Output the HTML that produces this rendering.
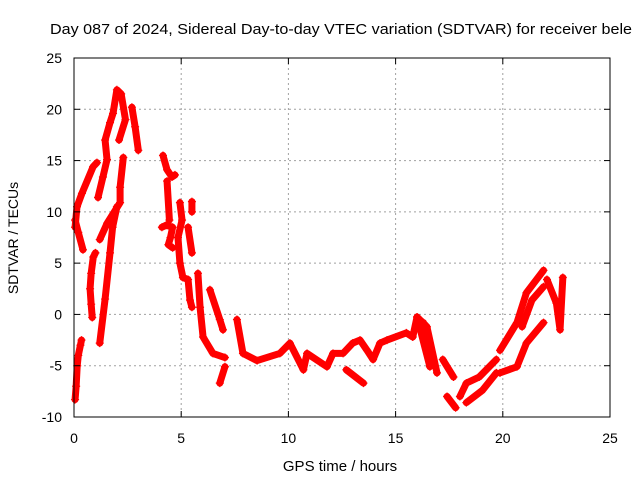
<!DOCTYPE html>
<html><head><meta charset="utf-8"><style>
body{margin:0;background:#fff;}
svg{display:block;font-family:"Liberation Sans",sans-serif;}
</style></head><body>
<svg id="chart" width="640" height="480">
<text x="50" y="34" font-size="15" textLength="582" lengthAdjust="spacingAndGlyphs">Day 087 of 2024, Sidereal Day-to-day VTEC variation (SDTVAR) for receiver bele</text>
<text x="340" y="471" font-size="15" text-anchor="middle">GPS time / hours</text>
<text transform="translate(18,238) rotate(-90)" font-size="14" text-anchor="middle">SDTVAR / TECUs</text>
<g id="grid"></g><g id="marks"></g><g id="axes"></g>
</svg>
<script>
const xTicks=[0,5,10,15,20,25];
const yTicks=[-10,-5,0,5,10,15,20,25];
const trackA=[[0.05,-8.3],[0.1,-7],[0.15,-5],[0.2,-4],[0.3,-3],[0.35,-2.5]];
const trackB=[[0.05,8.5],[0.14,10.5],[0.37,11.8],[0.89,14.4],[1.07,14.8]];
const trackB2=[[0.05,9.2],[0.2,8],[0.42,6.3]];
const trackC=[[0.85,-0.3],[0.8,1],[0.75,2.5],[0.8,4],[0.9,5.6],[1.0,6]];
const trackC2=[[1.2,7.3],[1.55,8.9],[2.15,10.9],[2.15,12.4],[2.3,15.3]];
const trackD=[[1.2,-2.8],[1.45,1.5],[1.68,6],[1.8,8.5],[2.0,10.5]];
const trackE=[[1.12,11.4],[1.35,13.4],[1.54,15.1],[1.45,17],[1.68,18.7],[1.82,19.6],[2.0,21.9],[2.2,21.5],[2.4,19],[2.1,17]];
const trackF=[[2.7,20.2],[2.85,18.3],[3.0,16]];
const trackG=[[4.15,15.5],[4.34,14.1],[4.57,13.4],[4.71,13.6]];
const trackG2=[[4.34,13],[4.45,9.2]];
const trackG3=[[4.1,8.5],[4.3,8.7],[4.6,8.5],[4.5,7.5],[4.4,6.8],[4.6,6.5]];
const trackH=[[4.94,10.9],[5.04,9.2],[4.85,7.5],[4.94,5.0],[5.08,3.6],[5.32,3.4],[5.41,1.4],[5.5,0.7]];
const trackH2=[[5.5,11],[5.5,10]];
const trackH3=[[5.32,8.5],[5.5,6]];
const trackI=[[5.78,4.0],[5.88,0.7],[6.02,-2.2],[6.48,-3.8],[7.04,-4.2]];
const trackJ=[[6.34,2.4],[6.8,-0.5],[6.95,-1.5]];
const trackK=[[7.04,-5.1],[6.8,-6.7]];
const trackM=[[7.6,-0.5],[7.88,-3.8],[8.54,-4.5],[9.6,-3.8],[10.07,-2.8],[10.7,-5.4],[10.87,-3.8],[11.8,-5.1],[12.08,-3.8],[12.55,-3.8],[13.0,-2.8],[13.34,-2.5],[13.67,-3.5],[13.95,-4.4],[14.27,-2.8],[14.6,-2.5],[15.5,-1.8],[15.8,-2.2],[16.0,-0.25],[16.46,-1.2],[16.93,-5.7]];
const trackM2=[[12.7,-5.4],[13.5,-6.7]];
const trackN=[[16.0,-0.25],[16.6,-5.1]];
const trackN2=[[16.3,-0.8],[16.6,-2.8]];
const trackO=[[17.2,-4.4],[17.7,-6.1]];
const trackO2=[[17.4,-8],[17.8,-9.1]];
const trackP=[[18,-8],[18.3,-6.7],[18.9,-6.1],[19.7,-4.4]];
const trackP2=[[18.3,-8.6],[19.05,-7.4],[19.7,-5.7]];
const trackQ=[[19.87,-3.5],[20.66,-0.8],[21.1,2.1],[21.9,4.3]];
const trackQ2=[[19.87,-5.7],[20.66,-5.1],[21.1,-2.8],[21.9,-0.8]];
const trackQ3=[[20.9,-1.2],[21.36,1.4],[21.9,2.7]];
const trackR=[[22.06,3.4],[22.5,1.1],[22.67,-1.5],[22.8,3.6]];
const tracks=[trackA,trackB,trackB2,trackC,trackC2,trackD,trackE,trackF,trackG,trackG2,trackG3,trackH,trackH2,trackH3,trackI,trackJ,trackK,trackM,trackM2,trackN,trackN2,trackO,trackO2,trackP,trackP2,trackQ,trackQ2,trackQ3,trackR];
const X0=74,X1=610,Y0=417,Y1=58;
const xs=h=>X0+(h-0)/25*(X1-X0);
const ys=v=>Y0-(v+10)/35*(Y0-Y1);
const NS="http://www.w3.org/2000/svg";
function mk(tag,attrs,parent){const e=document.createElementNS(NS,tag);for(const k in attrs)e.setAttribute(k,attrs[k]);parent.appendChild(e);return e;}
const grid=document.getElementById('grid'),axes=document.getElementById('axes'),marks=document.getElementById('marks');
xTicks.forEach(t=>{const x=xs(t);
 if(t>0&&t<25){const l=mk('line',{x1:x,x2:x,y1:Y1,y2:Y0,stroke:'#a0a0a0','stroke-dasharray':'2,3'},grid);
 
 }
 mk('line',{x1:x,x2:x,y1:Y0,y2:Y0-6,stroke:'#000'},axes);
 mk('line',{x1:x,x2:x,y1:Y1,y2:Y1+6,stroke:'#000'},axes);
 const tx=mk('text',{x:x,y:443,'font-size':14,'text-anchor':'middle'},axes);tx.textContent=t;
 
 
});
yTicks.forEach(t=>{const y=ys(t);
 if(t>-10&&t<25){const l=mk('line',{x1:X0,x2:X1,y1:y,y2:y,stroke:'#a0a0a0','stroke-dasharray':'2,3'},grid);
 
 }
 mk('line',{x1:X0,x2:X0+6,y1:y,y2:y,stroke:'#000'},axes);
 mk('line',{x1:X1,x2:X1-6,y1:y,y2:y,stroke:'#000'},axes);
 const tx=mk('text',{x:62,y:y+5,'font-size':14,'text-anchor':'end'},axes);tx.textContent=t;
 
 
});
const fr=mk('rect',{x:X0,y:Y1,width:X1-X0,height:Y0-Y1,fill:'none',stroke:'#000'},axes);


tracks.forEach(tr=>{
 const pl=mk('polyline',{points:tr.map(p=>xs(p[0])+','+ys(p[1])).join(' '),fill:'none',stroke:'#f00','stroke-width':7,'stroke-linejoin':'round','stroke-linecap':'round'},marks);
 
 
 tr.forEach(p=>{const x=xs(p[0]),y=ys(p[1]);
  const m=mk('path',{d:`M${x-4},${y}h8M${x},${y-4}v8`,stroke:'#f00','stroke-width':1.2},marks);
  
  
 });
});
</script>
</body></html>
